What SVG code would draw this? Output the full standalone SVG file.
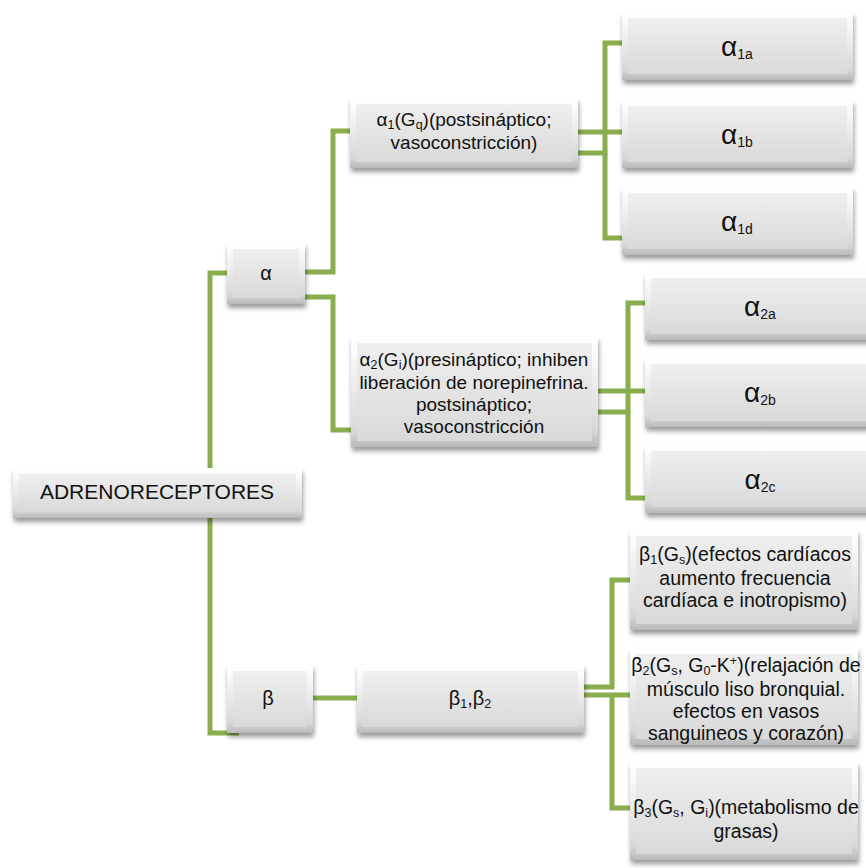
<svg xmlns="http://www.w3.org/2000/svg" width="866" height="868" viewBox="0 0 866 868">
<defs>
<linearGradient id="gO" x1="0" y1="0" x2="0" y2="1">
<stop offset="0" stop-color="#ffffff"/>
<stop offset="0.12" stop-color="#fbfbfb"/>
<stop offset="0.85" stop-color="#d8d8d8"/>
<stop offset="1" stop-color="#b9b9b9"/>
</linearGradient>
<linearGradient id="gI" x1="0" y1="0" x2="0" y2="1">
<stop offset="0" stop-color="#efefef"/>
<stop offset="1" stop-color="#d9d9d9"/>
</linearGradient>
<filter id="sh" x="-10%" y="-20%" width="120%" height="150%">
<feGaussianBlur in="SourceAlpha" stdDeviation="2.5"/>
<feOffset dx="1" dy="4" result="b"/>
<feComponentTransfer><feFuncA type="linear" slope="0.4"/></feComponentTransfer>
<feMerge><feMergeNode/><feMergeNode in="SourceGraphic"/></feMerge>
</filter>
</defs>
<style>
.o{fill:url(#gO);filter:url(#sh)}
.i{fill:url(#gI)}
text{font-family:"Liberation Sans",Arial,sans-serif;fill:#111;text-anchor:middle}
.t{font-size:19.5px}
.t19{font-size:19px}
.big{font-size:28px}
.s{font-size:12.5px}
.s14{font-size:14px}
.c{fill:none;stroke:#8aad4e;stroke-width:5}
</style>
<rect width="866" height="868" fill="#ffffff"/>
<g id="connectors">
<path class="c" d="M229,273 H210 V733 H239"/>
<path class="c" d="M305,272 H333 V131 H350"/>
<path class="c" d="M305,297 H333 V430 H352"/>
<path class="c" d="M578,132 H622"/>
<path class="c" d="M578,153 H605 V43 H622"/>
<path class="c" d="M605,153 V238 H622"/>
<path class="c" d="M598,391 H645"/>
<path class="c" d="M598,412 H628 V303 H645"/>
<path class="c" d="M628,412 V498 H645"/>
<path class="c" d="M313,698 H357"/>
<path class="c" d="M584,687 H612 V580 H630"/>
<path class="c" d="M584,695 H630"/>
<path class="c" d="M612,695 V808 H630"/>
</g>
<g id="n-adreno">
<rect class="o" x="13" y="468" width="289" height="50"/>
<rect class="i" x="19" y="474" width="277" height="38"/>
<text x="157" y="499" style="font-size:21px">ADRENORECEPTORES</text>
</g>
<g id="n-alpha">
<rect class="o" x="227" y="243" width="78" height="61"/>
<rect class="i" x="233" y="249" width="66" height="49"/>
<text x="266" y="280" style="font-size:20px">α</text>
</g>
<g id="n-alpha1">
<rect class="o" x="350" y="98" width="228" height="70"/>
<rect class="i" x="356" y="104" width="216" height="58"/>
<text class="t19" x="464" y="126">α<tspan class="s" dy="3">1</tspan><tspan dy="-3">(G</tspan><tspan class="s" dy="3">q</tspan><tspan dy="-3">)(postsináptico;</tspan></text>
<text class="t19" x="464" y="149">vasoconstricción)</text>
</g>
<g id="n-alpha2">
<rect class="o" x="351" y="337" width="247" height="110"/>
<rect class="i" x="357" y="343" width="235" height="98"/>
<text class="t19" x="474" y="366">α<tspan class="s" dy="3">2</tspan><tspan dy="-3">(G</tspan><tspan class="s" dy="3">i</tspan><tspan dy="-3">)(presináptico; inhiben</tspan></text>
<text class="t19" x="474" y="389">liberación de norepinefrina.</text>
<text class="t19" x="474" y="411">postsináptico;</text>
<text class="t19" x="474" y="433">vasoconstricción</text>
</g>
<g id="n-alpha1a">
<rect class="o" x="622" y="12" width="231" height="68"/>
<rect class="i" x="628" y="18" width="219" height="56"/>
<text class="big" x="737" y="56">α<tspan class="s14" dy="3">1a</tspan></text>
</g>
<g id="n-alpha1b">
<rect class="o" x="622" y="100" width="231" height="68"/>
<rect class="i" x="628" y="106" width="219" height="56"/>
<text class="big" x="737" y="144">α<tspan class="s14" dy="3">1b</tspan></text>
</g>
<g id="n-alpha1d">
<rect class="o" x="622" y="187" width="231" height="68"/>
<rect class="i" x="628" y="193" width="219" height="56"/>
<text class="big" x="737" y="231">α<tspan class="s14" dy="3">1d</tspan></text>
</g>
<g id="n-alpha2a">
<rect class="o" x="645" y="272" width="231" height="68"/>
<rect class="i" x="651" y="278" width="219" height="56"/>
<text class="big" x="760" y="316">α<tspan class="s14" dy="3">2a</tspan></text>
</g>
<g id="n-alpha2b">
<rect class="o" x="645" y="358" width="231" height="69"/>
<rect class="i" x="651" y="364" width="219" height="57"/>
<text class="big" x="760" y="402">α<tspan class="s14" dy="3">2b</tspan></text>
</g>
<g id="n-alpha2c">
<rect class="o" x="645" y="445" width="231" height="68"/>
<rect class="i" x="651" y="451" width="219" height="56"/>
<text class="big" x="760" y="489">α<tspan class="s14" dy="3">2c</tspan></text>
</g>
<g id="n-beta">
<rect class="o" x="227" y="665" width="86" height="68"/>
<rect class="i" x="233" y="671" width="74" height="56"/>
<text x="268" y="705" style="font-size:20px">β</text>
</g>
<g id="n-beta12">
<rect class="o" x="357" y="665" width="227" height="68"/>
<rect class="i" x="363" y="671" width="215" height="56"/>
<text x="470" y="705" style="font-size:20px">β<tspan class="s" dy="3">1</tspan><tspan dy="-3">,β</tspan><tspan class="s" dy="3">2</tspan></text>
</g>
<g id="n-beta1">
<rect class="o" x="630" y="530" width="228" height="100"/>
<rect class="i" x="636" y="536" width="216" height="88"/>
<text class="t" x="745" y="561">β<tspan class="s" dy="3">1</tspan><tspan dy="-3">(G</tspan><tspan class="s" dy="3">s</tspan><tspan dy="-3">)(efectos cardíacos</tspan></text>
<text class="t" x="745" y="585">aumento frecuencia</text>
<text class="t" x="745" y="607">cardíaca e inotropismo)</text>
</g>
<g id="n-beta2">
<rect class="o" x="630" y="648" width="228" height="97"/>
<rect class="i" x="636" y="654" width="216" height="85"/>
<text class="t" x="746" y="672">β<tspan class="s" dy="3">2</tspan><tspan dy="-3">(G</tspan><tspan class="s" dy="3">s</tspan><tspan dy="-3">, G</tspan><tspan class="s" dy="3">0</tspan><tspan dy="-3">-K</tspan><tspan class="s" dy="-7">+</tspan><tspan dy="7">)(relajación de</tspan></text>
<text class="t" x="746" y="696">músculo liso bronquial.</text>
<text class="t" x="746" y="718">efectos en vasos</text>
<text class="t" x="746" y="740">sanguineos y corazón)</text>
</g>
<g id="n-beta3">
<rect class="o" x="630" y="762" width="228" height="98"/>
<rect class="i" x="636" y="768" width="216" height="86"/>
<text class="t" x="746" y="814">β<tspan class="s" dy="3">3</tspan><tspan dy="-3">(G</tspan><tspan class="s" dy="3">s</tspan><tspan dy="-3">, G</tspan><tspan class="s" dy="3">i</tspan><tspan dy="-3">)(metabolismo de</tspan></text>
<text class="t" x="746" y="838">grasas)</text>
</g>
</svg>
